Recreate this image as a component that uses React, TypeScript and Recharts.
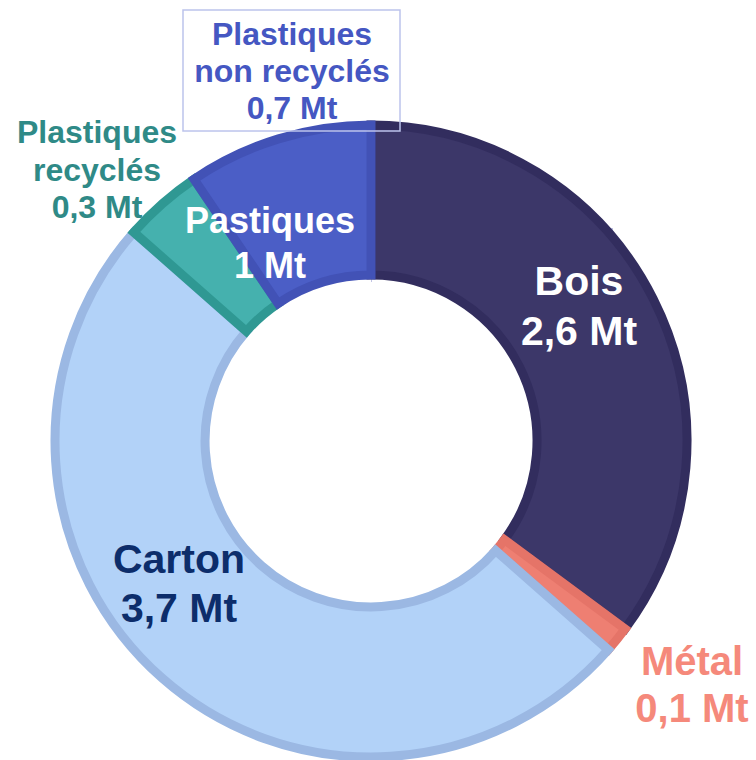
import React from 'react';
import { PieChart, Pie, Cell } from 'recharts';

// Emballages mis sur le marché, en millions de tonnes (Mt)
const materials = ['Bois', 'Métal', 'Carton', 'Plastiques recyclés', 'Plastiques non recyclés'];
const tonnes = [2.6, 0.1, 3.7, 0.3, 0.7];
const labelLines: string[][] = [['Bois'], ['Métal'], ['Carton'], ['Plastiques', 'recyclés'], ['Plastiques', 'non recyclés']];
const plasticGroup = 'Pastiques';

const fills = ['#3c3769', '#ee7f72', '#b2d2f8', '#45b1ae', '#4b5ec6'];
const strokes = ['#322d5e', '#e57468', '#9bb8e3', '#2f9893', '#4252b6'];

const data = materials.map((name, i) => ({ name, value: tonnes[i] }));

const fmt = (v: number) => `${(Math.round(v * 10) / 10).toString().replace('.', ',')} Mt`;

type LabelStyle = { x: number; y: number; size: number; gap: number; color: string };

const labelStyle: Record<string, LabelStyle> = {
  Bois: { x: 579, y: 295, size: 41, gap: 50, color: '#ffffff' },
  Métal: { x: 692, y: 675, size: 40, gap: 47, color: '#f5897b' },
  Carton: { x: 179, y: 573, size: 41, gap: 49, color: '#0c2d6b' },
  'Plastiques recyclés': { x: 97, y: 143, size: 32, gap: 37.5, color: '#2f8a87' },
  'Plastiques non recyclés': { x: 292, y: 45, size: 32, gap: 37, color: '#4557c2' },
};
const groupStyle: LabelStyle = { x: 270, y: 233, size: 36, gap: 45, color: '#ffffff' };

const FONT = '"Liberation Sans", Arial, Helvetica, sans-serif';

const Block = ({ s, lines }: { s: LabelStyle; lines: string[] }) => (
  <text x={s.x} y={s.y} textAnchor="middle" fill={s.color} fontFamily={FONT} fontWeight="bold" fontSize={s.size}>
    {lines.map((t, i) => (
      <tspan key={i} x={s.x} dy={i === 0 ? 0 : s.gap}>
        {t}
      </tspan>
    ))}
  </text>
);

const renderLabel = (props: any) => {
  const { index } = props;
  const name = materials[index];
  const s = labelStyle[name];
  const lines = [...labelLines[index], fmt(tonnes[index])];
  if (name === 'Plastiques non recyclés') {
    const plastics = tonnes[3] + tonnes[4];
    return (
      <g key={name}>
        <rect x={183} y={10} width={217} height={121} fill="none" stroke="#bcc3ec" strokeWidth={1.5} />
        <Block s={s} lines={lines} />
        <Block s={groupStyle} lines={[plasticGroup, fmt(plastics)]} />
      </g>
    );
  }
  return (
    <g key={name}>
      <Block s={s} lines={lines} />
    </g>
  );
};

export default function App() {
  return (
    <div style={{ position: 'absolute', left: 0, top: 0, width: 756, height: 760, background: '#fff' }}>
      <PieChart width={756} height={760} margin={{ top: 0, right: 0, bottom: 0, left: 0 }}>
        <Pie
          data={data}
          dataKey="value"
          nameKey="name"
          cx={371}
          cy={441}
          innerRadius={166}
          outerRadius={316}
          startAngle={90}
          endAngle={-270}
          strokeWidth={9}
          labelLine={false}
          label={renderLabel}
          isAnimationActive={false}
        >
          {data.map((entry, i) => (
            <Cell key={entry.name} fill={fills[i]} stroke={strokes[i]} />
          ))}
        </Pie>
        {/* faint text-frame edges left over on the slide */}
        <g stroke="#8f93cf" strokeOpacity={0.55} strokeWidth={1}>
          <line x1={371.5} y1={122} x2={371.5} y2={282} />
          <line x1={372} y1={228.5} x2={612} y2={228.5} />
          <line x1={612.5} y1={228} x2={612.5} y2={535} />
        </g>
        <line x1={370} y1={632.5} x2={490} y2={632.5} stroke="#d3e3fa" strokeWidth={1} />
      </PieChart>
    </div>
  );
}
